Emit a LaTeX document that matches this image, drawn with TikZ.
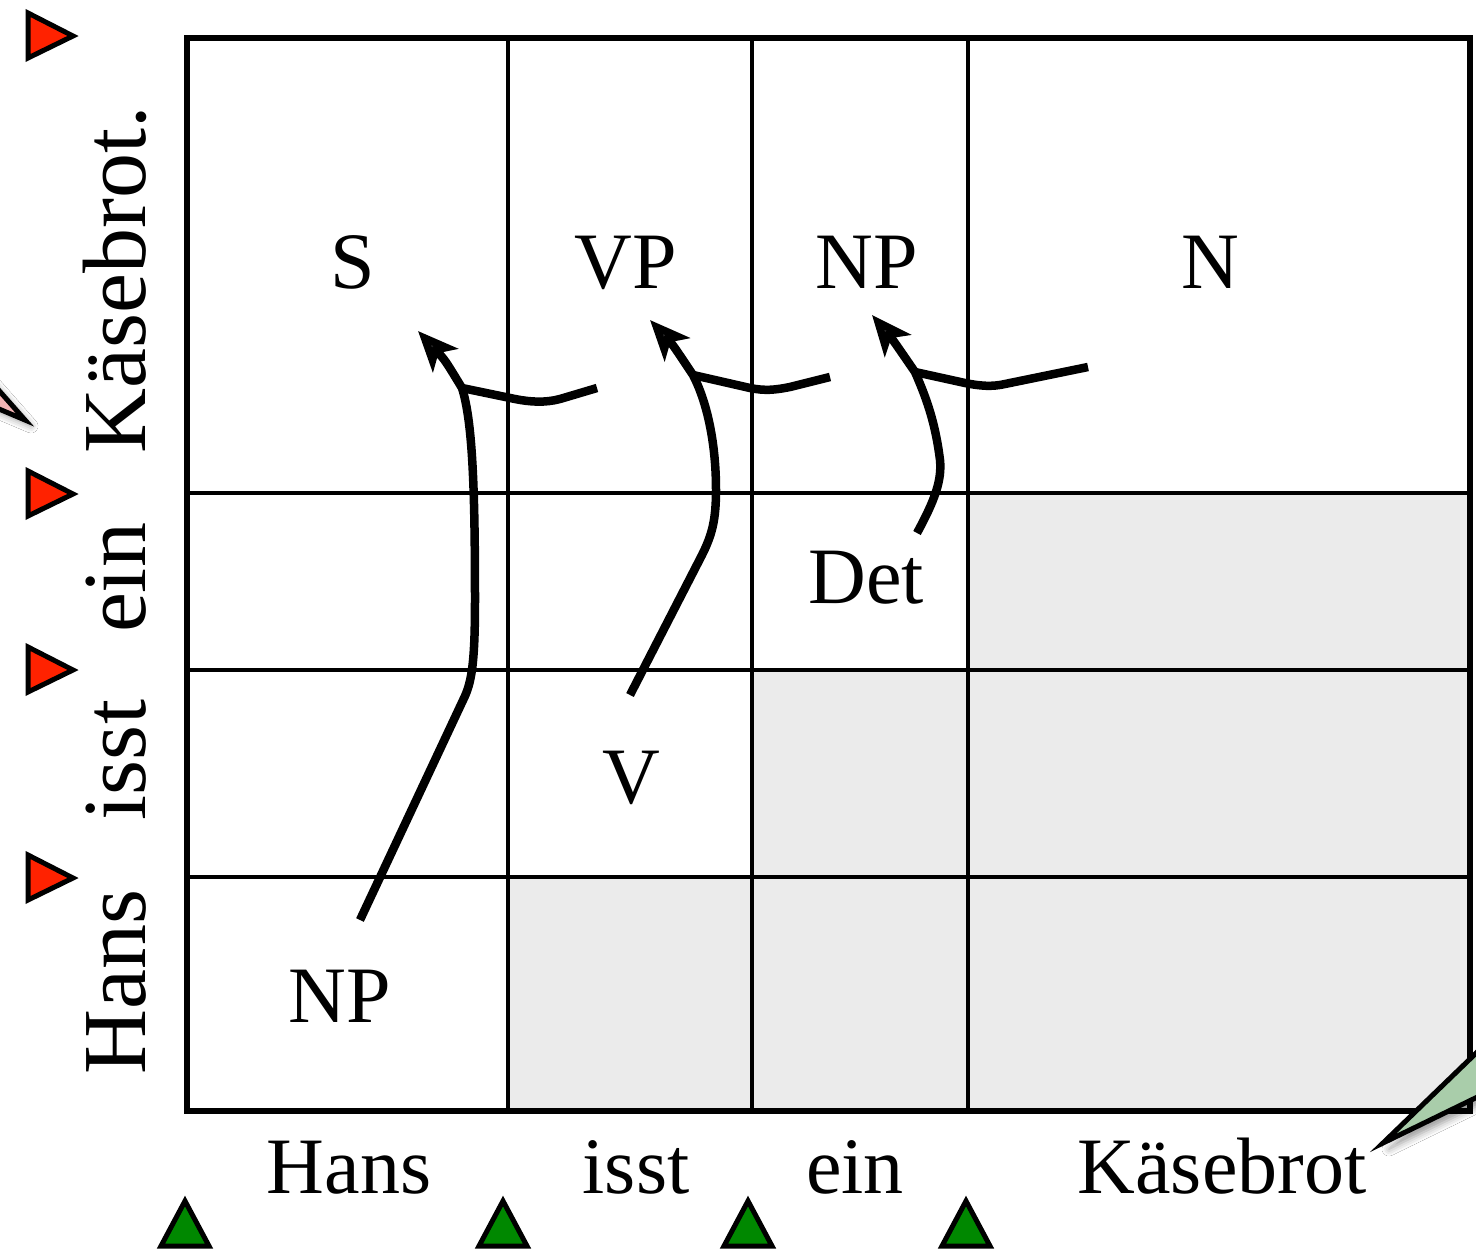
\documentclass[tikz,border=0pt]{standalone}
\usepackage{fontspec}
\setmainfont{Liberation Serif}
\usetikzlibrary{arrows.meta,shadows.blur}
\definecolor{cellgray}{HTML}{EBEBEB}
\definecolor{redtri}{HTML}{FF2200}
\definecolor{greentri}{HTML}{008800}
\definecolor{pinkcall}{HTML}{F4B4B4}
\definecolor{greencall}{HTML}{A9CDAA}
\begin{document}
\begin{tikzpicture}[x=1pt,y=-1pt,
  lbl/.style={font=\fontsize{80}{96}\selectfont, anchor=base, inner sep=0pt},
  sidelbl/.style={font=\fontsize{90}{108}\selectfont, anchor=base, inner sep=0pt, rotate=90},
  outer/.style={line width=5.5pt},
  inner/.style={line width=4.5pt},
  arr/.style={line width=8.5pt, -{Stealth[length=40pt,width=34pt,inset=10pt]}},
  branch/.style={line width=8.5pt},
  rtri/.style={fill=redtri, draw=black, line width=5pt, line join=miter},
  gtri/.style={fill=greentri, draw=black, line width=5pt, line join=miter},
  callout/.style={draw=black, line width=5pt, line join=miter,
     blur shadow={shadow xshift=6pt, shadow yshift=-6pt, shadow blur radius=7pt}}
]
\clip (0,0) rectangle (1476,1260);
\fill[white] (0,0) rectangle (1476,1260);

% gray cells
\fill[cellgray] (968,493) rectangle (1470,670);
\fill[cellgray] (752,670) rectangle (1470,877);
\fill[cellgray] (508,877) rectangle (1470,1111);

% grid lines
\draw[inner] (508,38) -- (508,1111);
\draw[inner] (752,38) -- (752,1111);
\draw[inner] (968,38) -- (968,1111);
\draw[inner] (187,493) -- (1470,493);
\draw[inner] (187,670) -- (1470,670);
\draw[inner] (187,877) -- (1470,877);
\draw[outer] (187,38) rectangle (1470,1111);

% cell labels
\node[lbl] (S)   at (353,288)  {S};
\node[lbl] (VP)  at (626,288)  {VP};
\node[lbl] (NPt) at (867,288)  {NP};
\node[lbl] (N)   at (1210,288) {N};
\node[lbl] (Det) at (866,603)  {Det};
\node[lbl] (V)   at (631,803)  {V};
\node[lbl] (NPb) at (340,1022) {NP};

% bottom words
\node[lbl] (wH) at (349,1193)  {Hans};
\node[lbl] (wI) at (636,1193)  {isst};
\node[lbl] (wE) at (855,1193)  {ein};
\node[lbl] (wK) at (1222,1193) {Käsebrot};

% side words
\node[sidelbl] (sH) at (145,982) {Hans};
\node[sidelbl] (sI) at (145,760) {isst};
\node[sidelbl] (sE) at (145,578) {ein};
\node[sidelbl] (sK) at (145,280) {Käsebrot.};

% red triangles
\foreach \yy/\nm in {36/r1,494/r2,670/r3,878/r4}{
  \draw[rtri] (28,\yy-23) -- (73,\yy) -- (28,\yy+22) -- cycle;
  \coordinate (\nm) at (50,\yy);
}
% green triangles
\foreach \xx/\nm in {185/g1,503/g2,748/g3,966/g4}{
  \draw[gtri] (\xx-24,1246) -- (\xx,1201) -- (\xx+24,1246) -- cycle;
  \coordinate (\nm) at (\xx,1230);
}

% callouts (partly off the picture)
\draw[callout, fill=pinkcall] (-20,369) -- (25,420) -- (-20,401) -- cycle;
\draw[callout, fill=greencall] (1500,1030) -- (1383,1143) -- (1500,1086) -- cycle;

% arrow coordinates
\coordinate (a1s) at (360,920);
\coordinate (a1j) at (462,388);
\coordinate (a1t) at (418,331);
\coordinate (b1e) at (597,388);
\coordinate (a2s) at (630,695);
\coordinate (a2j) at (693,375);
\coordinate (a2t) at (650,320);
\coordinate (b2e) at (830,377);
\coordinate (a3s) at (917,533);
\coordinate (a3j) at (915,372);
\coordinate (a3t) at (872,315);
\coordinate (b3e) at (1088,367);

% arrow 1 (NP -> S)
\draw[arr] (a1s) -- (465,696) .. controls (472,680) and (475,660) .. (475,600)
   .. controls (475,480) and (472,420) .. (a1j) .. controls (445,360) .. (a1t);
\draw[branch] (a1j) -- (515,399) .. controls (530,402) and (545,403) .. (560,399) -- (b1e);

% arrow 2 (V -> VP)
\draw[arr] (a2s) -- (702,555) .. controls (712,535) and (716,520) .. (716,490)
   .. controls (716,440) and (706,400) .. (a2j) .. controls (673,345) .. (a2t);
\draw[branch] (a2j) -- (750,388) .. controls (765,391) and (775,390) .. (790,387) -- (b2e);

% arrow 3 (Det -> NP)
\draw[arr] (a3s) .. controls (935,500) and (942,480) .. (940,460)
   .. controls (935,420) and (925,395) .. (a3j) .. controls (893,340) .. (a3t);
\draw[branch] (a3j) -- (965,383) .. controls (980,386) and (992,387) .. (1005,384) -- (b3e);
\end{tikzpicture}
\end{document}
